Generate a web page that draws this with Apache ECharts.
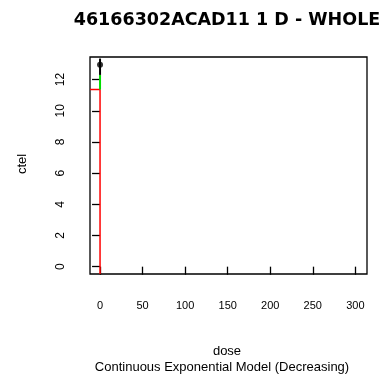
<!DOCTYPE html>
<html>
<head>
<meta charset="utf-8">
<script src="https://cdn.jsdelivr.net/npm/echarts@6/dist/echarts.min.js"></script>
<style>html,body{margin:0;padding:0;background:#fff}#c{width:388px;height:376px}</style>
</head>
<body>
<div id="c"></div>
<script>
// Data
const titleText = '46166302ACAD11 1 D - WHOLE';
const xName = 'dose';
const yName = 'ctel';
const subText = 'Continuous Exponential Model (Decreasing)';
const xTicks = [0, 50, 100, 150, 200, 250, 300];
const yTicks = [0, 2, 4, 6, 8, 10, 12];
const xRange = [-11.8, 313.7];
const yRange = [-0.47, 13.45];
// observed group mean with error bar
const obsDose = [0];
const obsMean = [12.95];
const obsLow = [12.3];
const obsHigh = [13.35];
// fitted model curve
const fitDose = [0, 0];
const fitResp = [12.3, 11.36];
// BMD / BMR response
const bmd = 0;
const bmrResp = 11.36;

const chart = echarts.init(document.getElementById('c'), null, {renderer: 'canvas'});
const tickFont = {fontFamily: 'Liberation Sans', fontSize: 11, color: '#000'};
chart.setOption({
  animation: false,
  backgroundColor: '#fff',
  title: [
    {text: titleText, left: 222, top: 6, textAlign: 'center',
     textStyle: {fontFamily: 'DejaVu Sans', fontWeight: 'bold', fontSize: 17.5, color: '#000'}},
  ],
  graphic: [
    {type: 'text', style: {text: xName, font: '13px "Liberation Sans"', fill: '#000', textAlign: 'center'}, position: [227, 345]},
    {type: 'text', style: {text: subText, font: '13px "Liberation Sans"', fill: '#000', textAlign: 'center'}, position: [222, 361]},
    {type: 'text', style: {text: yName, font: '13px "Liberation Sans"', fill: '#000', textAlign: 'center', textVerticalAlign: 'middle'}, position: [22, 164], rotation: Math.PI / 2}
  ],
  grid: {left: 90, right: 21, top: 57, bottom: 102, show: true, borderColor: '#000', borderWidth: 1.3, backgroundColor: 'transparent'},
  xAxis: {
    type: 'value', min: xRange[0], max: xRange[1],
    axisLine: {show: false},
    splitLine: {show: false},
    axisTick: {show: true, length: 8, customValues: xTicks, lineStyle: {color: '#000', width: 1.3}},
    axisLabel: {show: true, margin: 26, customValues: xTicks, ...tickFont}
  },
  yAxis: {
    type: 'value', min: yRange[0], max: yRange[1],
    axisLine: {show: false},
    splitLine: {show: false},
    axisTick: {show: true, length: 8, customValues: yTicks, lineStyle: {color: '#000', width: 1.3}},
    axisLabel: {show: true, margin: 29, rotate: 90, customValues: yTicks, ...tickFont, fontSize: 12, verticalAlign: 'middle', align: 'center'}
  },
  series: [
    {type: 'line', data: [[xRange[0], bmrResp], [bmd, bmrResp], [bmd, yRange[0]]], symbol: 'none',
     lineStyle: {color: '#ff0000', width: 1.5}, z: 3},
    {type: 'line', data: fitDose.map((d, i) => [d, fitResp[i]]), symbol: 'none',
     lineStyle: {color: '#00dd00', width: 2}, z: 4},
    {type: 'line', data: obsDose.map((d, i) => [d, obsLow[i]]).concat(obsDose.map((d, i) => [d, obsHigh[i]])), symbol: 'none',
     lineStyle: {color: '#000', width: 2}, z: 5},
    {type: 'scatter', data: obsDose.map((d, i) => [d, obsMean[i]]), symbol: 'circle', symbolSize: 6,
     itemStyle: {color: '#000'}, z: 6}
  ]
});
</script>
</body>
</html>
